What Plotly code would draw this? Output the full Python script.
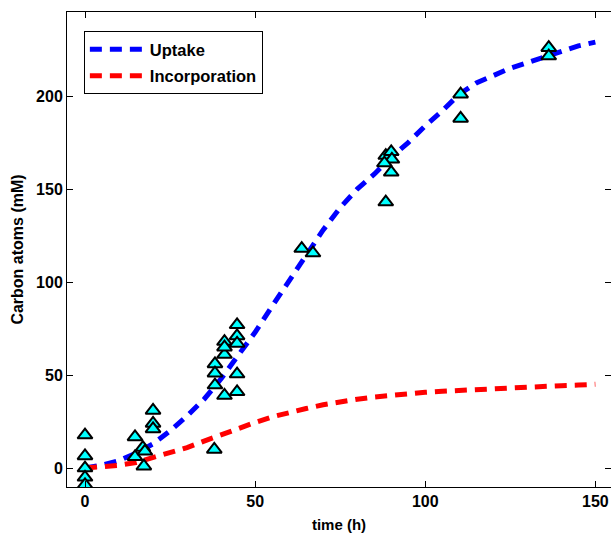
import plotly.graph_objects as go

# Data points (time in h, carbon atoms in mM)
obs_time = [0, 0, 0, 0, 0,
            14.7, 14.7, 17, 17.6, 17.3, 20, 20, 20,
            38, 38.2, 38.2, 38.2, 41, 41, 41, 41, 44.7, 44.7, 44.7, 44.7, 44.7,
            63.7, 67,
            88.4, 90, 90.2, 88, 90, 88.4,
            110.4, 110.4, 136.3, 136.3]
obs_carbon = [17.7, 6.5, 0, -5, -9,
              16.7, 6, 11, 9, 1, 31, 24, 21,
              10, 56, 51, 44.6, 61, 68, 39, 65, 77, 71, 67, 50.5, 41,
              118, 115.6,
              168, 170, 166, 164, 159, 143,
              201, 188, 226, 221.5]

# Model curves
model_time = [0, 5, 10, 15, 20, 25, 30, 35, 40, 45, 50, 55, 60, 65, 70, 75,
              80, 85, 90, 95, 100, 105, 110, 115, 120, 125, 130, 135, 140, 145, 150]
uptake = [0, 1.5, 4, 8, 13, 20, 28, 37, 48, 60, 73, 87, 101, 115, 128, 140,
          150, 158, 167, 175, 184, 192, 201, 207, 211, 215, 218, 221, 224, 227, 229]
incorporation = [0, 0.5, 1.5, 3, 5.5, 8, 11, 14.5, 18, 21.5, 24.5, 27.5, 30, 32, 34, 35.7,
                 37, 38.2, 39.2, 40, 40.7, 41.3, 41.8, 42.3, 42.8, 43.2, 43.6, 44, 44.3, 44.6, 45]

font_family = "Liberation Sans, Arial, sans-serif"

fig = go.Figure()
fig.add_trace(go.Scatter(x=model_time, y=uptake, mode="lines", name="Uptake",
                         legendgroup="a",
                         line=dict(color="#0000ff", width=5, dash="12px,8px")))
fig.add_trace(go.Scatter(x=model_time, y=incorporation, mode="lines", name="Incorporation",
                         legendgroup="b",
                         line=dict(color="#ff0000", width=5, dash="12px,8px")))
fig.add_trace(go.Scatter(x=obs_time, y=obs_carbon, mode="markers", showlegend=False,
                         marker=dict(symbol="triangle-up", size=13, color="#00ffff",
                                     line=dict(color="black", width=2))))

axis_common = dict(showline=True, linecolor="black", linewidth=1, mirror="ticks",
                   ticks="inside", ticklen=6, tickcolor="black", showgrid=False,
                   zeroline=False,
                   tickfont=dict(family=font_family, size=16, color="black", weight="bold"))

fig.update_layout(
    width=611, height=535,
    margin=dict(l=67, r=0, t=12, b=48),
    plot_bgcolor="white", paper_bgcolor="white",
    xaxis=dict(range=[-5.29, 154.6], tickvals=[0, 50, 100, 150],
               title=dict(text="time (h)", standoff=10,
                          font=dict(family=font_family, size=15, color="black", weight="bold")),
               **axis_common),
    yaxis=dict(range=[-10.2, 245.2], tickvals=[0, 50, 100, 150, 200],
               title=dict(text="Carbon atoms (mM)", standoff=8,
                          font=dict(family=font_family, size=16, color="black", weight="bold")),
               **axis_common),
    legend=dict(x=0.031, y=0.96, xanchor="left", yanchor="top",
                bordercolor="black", borderwidth=1, bgcolor="white",
                font=dict(family=font_family, size=16.5, color="black", weight="bold"),
                traceorder="grouped", tracegroupgap=2, itemwidth=55),
    showlegend=True,
)

fig.write_html("out.html",
               config={"displayModeBar": False},
               post_script="document.body.style.margin='0';document.body.style.overflow='hidden';")
